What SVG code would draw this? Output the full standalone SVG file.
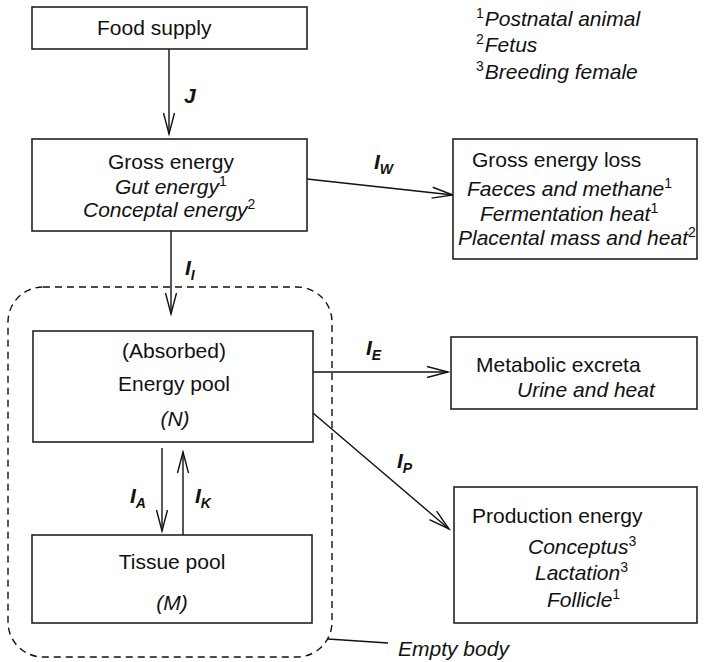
<svg xmlns="http://www.w3.org/2000/svg" width="705" height="662" viewBox="0 0 705 662">
<style>
  text { font-family: "Liberation Sans", Arial, Helvetica, sans-serif; font-size: 21px; fill: #111; }
  .it { font-style: italic; }
  .sup { font-size: 14px; font-style: normal; }
  .lbl { font-weight: bold; font-style: italic; font-size: 21px; }
  .sub { font-weight: bold; font-style: italic; font-size: 14px; }
  .box { fill: #fff; stroke: #222; stroke-width: 1.6; }
  .conn { stroke: #111; stroke-width: 1.4; fill: none; }
</style>
<defs>
  <marker id="arr" markerUnits="userSpaceOnUse" markerWidth="26" markerHeight="14" viewBox="-22 -7 24 14" refX="0" refY="0" orient="auto">
    <path d="M-21,-5.5 L0,0 L-21,5.5" fill="none" stroke="#111" stroke-width="1.4"/>
  </marker>
</defs>
<rect width="705" height="662" fill="#fff"/>

<g id="empty-body">
  <rect x="8" y="287" width="324" height="370" rx="35" ry="35" fill="none" stroke="#111" stroke-width="1.4" stroke-dasharray="7,5"/>
  <path d="M328,639 L388,643" class="conn"/>
  <text x="398" y="656" class="it">Empty body</text>
</g>

<g id="connectors">
  <path d="M169,49 L169,134" class="conn" marker-end="url(#arr)"/>
  <path d="M307,179 L453,195" class="conn" marker-end="url(#arr)"/>
  <path d="M171,231 L171,314" class="conn" marker-end="url(#arr)"/>
  <path d="M313,372 L448,372" class="conn" marker-end="url(#arr)"/>
  <path d="M313,413 L449,529" class="conn" marker-end="url(#arr)"/>
  <path d="M162,448 L162,531" class="conn" marker-end="url(#arr)"/>
  <path d="M183,535 L183,452" class="conn" marker-end="url(#arr)"/>
  <text x="184" y="103" class="lbl">J</text>
  <text x="374" y="169" class="lbl">I<tspan class="sub" dy="5">W</tspan></text>
  <text x="185" y="275" class="lbl">I<tspan class="sub" dy="5">I</tspan></text>
  <text x="366" y="355" class="lbl">I<tspan class="sub" dy="5">E</tspan></text>
  <text x="397" y="468" class="lbl">I<tspan class="sub" dy="5">P</tspan></text>
  <text x="130" y="503" class="lbl">I<tspan class="sub" dy="5">A</tspan></text>
  <text x="195" y="503" class="lbl">I<tspan class="sub" dy="5">K</tspan></text>
</g>

<g id="food-supply">
  <rect x="32" y="7" width="275" height="42" class="box"/>
  <text x="97" y="35">Food supply</text>
</g>

<g id="gross-energy">
  <rect x="32" y="139" width="275" height="92" class="box"/>
  <text x="171" y="169" text-anchor="middle">Gross energy</text>
  <text x="115" y="194" class="it">Gut energy<tspan class="sup" dy="-8">1</tspan></text>
  <text x="83" y="217" class="it">Conceptal energy<tspan class="sup" dy="-8">2</tspan></text>
</g>

<g id="gross-energy-loss">
  <rect x="453" y="139" width="244" height="120" class="box"/>
  <text x="472" y="167">Gross energy loss</text>
  <text x="467" y="196" class="it">Faeces and methane<tspan class="sup" dy="-8">1</tspan></text>
  <text x="480" y="221" class="it">Fermentation heat<tspan class="sup" dy="-8">1</tspan></text>
  <text x="458" y="245" class="it">Placental mass and heat<tspan class="sup" dy="-8">2</tspan></text>
</g>

<g id="energy-pool">
  <rect x="33" y="331" width="280" height="111" class="box"/>
  <text x="174" y="358" text-anchor="middle">(Absorbed)</text>
  <text x="174" y="391" text-anchor="middle">Energy pool</text>
  <text x="175" y="426" text-anchor="middle" class="it">(N)</text>
</g>

<g id="metabolic-excreta">
  <rect x="451" y="337" width="246" height="72" class="box"/>
  <text x="476" y="372">Metabolic excreta</text>
  <text x="517" y="397" class="it">Urine and heat</text>
</g>

<g id="tissue-pool">
  <rect x="32" y="535" width="280" height="88" class="box"/>
  <text x="172" y="569" text-anchor="middle">Tissue pool</text>
  <text x="172" y="610" text-anchor="middle" class="it">(M)</text>
</g>

<g id="production-energy">
  <rect x="454" y="487" width="243" height="136" class="box"/>
  <text x="472" y="523">Production energy</text>
  <text x="528" y="554" class="it">Conceptus<tspan class="sup" dy="-8">3</tspan></text>
  <text x="535" y="580" class="it">Lactation<tspan class="sup" dy="-8">3</tspan></text>
  <text x="547" y="607" class="it">Follicle<tspan class="sup" dy="-8">1</tspan></text>
</g>

<g id="footnotes">
  <text x="476" y="26" class="it"><tspan class="sup" dy="-8">1</tspan><tspan dy="8" dx="1">Postnatal animal</tspan></text>
  <text x="476" y="52" class="it"><tspan class="sup" dy="-8">2</tspan><tspan dy="8" dx="1">Fetus</tspan></text>
  <text x="476" y="79" class="it"><tspan class="sup" dy="-8">3</tspan><tspan dy="8" dx="1">Breeding female</tspan></text>
</g>
</svg>
